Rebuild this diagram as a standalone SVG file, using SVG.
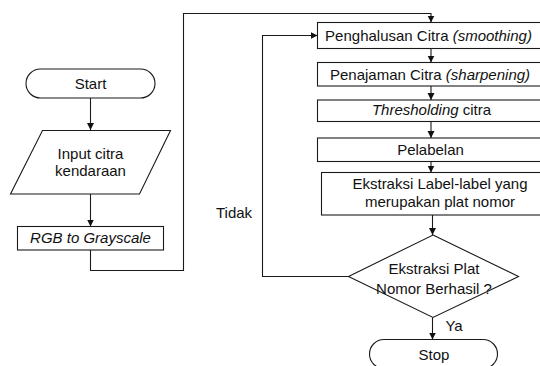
<svg xmlns="http://www.w3.org/2000/svg" width="540" height="366" viewBox="0 0 540 366">
<defs>
<style>
.s{fill:#fff;stroke:#1a1a1a;stroke-width:1.1}
.c{fill:none;stroke:#1a1a1a;stroke-width:1.1}
text{font-family:"Liberation Sans",Arial,sans-serif;font-size:15px;fill:#111;text-anchor:middle}
.i{font-style:italic}
</style>
<marker id="ah" markerUnits="userSpaceOnUse" markerWidth="8" markerHeight="8" refX="7" refY="3.5" orient="auto">
<path d="M0,0 L7,3.5 L0,7 Z" fill="#111"/>
</marker>
</defs>
<rect width="540" height="366" fill="#fff"/>
<g id="connectors">
<path class="c" d="M90.5,98 V130" marker-end="url(#ah)"/>
<path class="c" d="M90.5,194 V226.5" marker-end="url(#ah)"/>
<path class="c" d="M90.5,250 V270.5 H183.5 V13.5 H431 V22.5" marker-end="url(#ah)"/>
<path class="c" d="M431,48.5 V62.5" marker-end="url(#ah)"/>
<path class="c" d="M431,86 V100" marker-end="url(#ah)"/>
<path class="c" d="M431,121.5 V138" marker-end="url(#ah)"/>
<path class="c" d="M431,161.5 V172.5" marker-end="url(#ah)"/>
<path class="c" d="M432.5,215 V235" marker-end="url(#ah)"/>
<path class="c" d="M432.5,317.5 V339.5" marker-end="url(#ah)"/>
<path class="c" d="M348.5,276.5 H262.5 V35.5 H317.5" marker-end="url(#ah)"/>
<text x="234" y="217.5">Tidak</text>
<text x="454" y="330.5">Ya</text>
</g>
<g id="start">
<rect class="s" x="26" y="69" width="129" height="29" rx="14.5"/>
<text x="90.5" y="89">Start</text>
</g>
<g id="input">
<polygon class="s" points="42.5,130.5 170.5,130.5 139.5,194 10.5,194"/>
<text x="90.5" y="158.5">Input citra</text>
<text x="90.5" y="176">kendaraan</text>
</g>
<g id="rgb">
<rect class="s" x="17.5" y="226.5" width="146" height="23.5"/>
<text x="90.5" y="243" class="i">RGB to Grayscale</text>
</g>
<g id="smoothing">
<rect class="s" x="317.5" y="22.5" width="226" height="26"/>
<text x="428.5" y="40.5">Penghalusan Citra <tspan class="i">(smoothing)</tspan></text>
</g>
<g id="sharpening">
<rect class="s" x="317.5" y="62.5" width="226" height="23.5"/>
<text x="430" y="79.5">Penajaman Citra <tspan class="i">(sharpening)</tspan></text>
</g>
<g id="thresholding">
<rect class="s" x="317.5" y="100" width="226" height="21.5"/>
<text x="431.5" y="115"><tspan class="i">Thresholding</tspan> citra</text>
</g>
<g id="pelabelan">
<rect class="s" x="317.5" y="138" width="226" height="23.5"/>
<text x="430.5" y="155">Pelabelan</text>
</g>
<g id="ekstraksi">
<rect class="s" x="321.5" y="172.5" width="236" height="42.5"/>
<text x="440" y="189">Ekstraksi Label-label yang</text>
<text x="440" y="207">merupakan plat nomor</text>
</g>
<g id="decision">
<polygon class="s" points="433,235 518.5,276.5 433,317.5 348.5,276.5"/>
<text x="434" y="273.5">Ekstraksi Plat</text>
<text x="434" y="293.5">Nomor Berhasil ?</text>
</g>
<g id="stop">
<rect class="s" x="369.5" y="339.5" width="128" height="29" rx="14.5"/>
<text x="434" y="359.5">Stop</text>
</g>
</svg>
